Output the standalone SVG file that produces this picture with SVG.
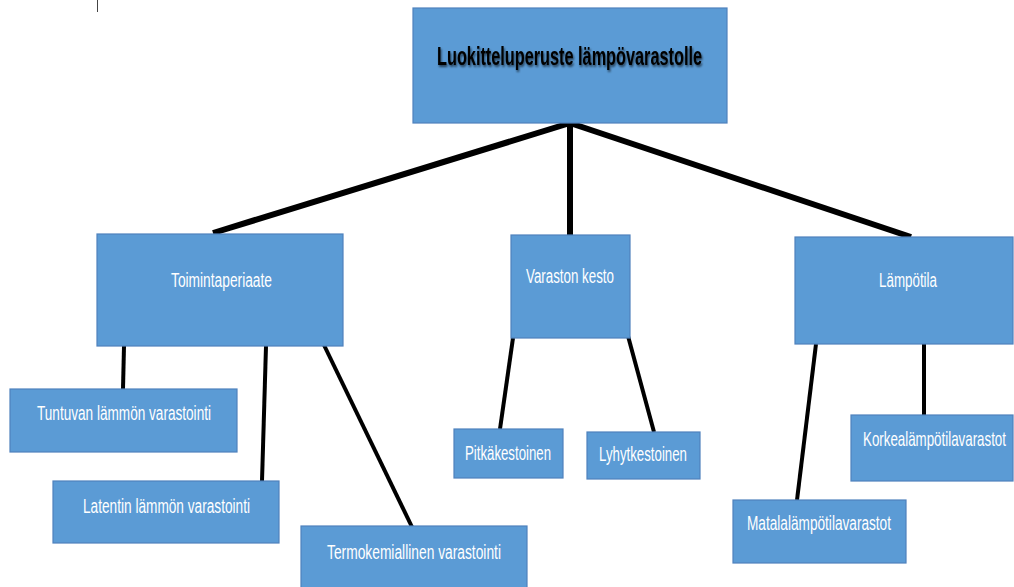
<svg xmlns="http://www.w3.org/2000/svg" width="1014" height="587" viewBox="0 0 1014 587">
<style>
.box{fill:#5B9BD5;stroke:#4F81BD;stroke-width:1.2}
.t{font-family:"Liberation Sans",Arial,sans-serif;font-size:20px;fill:#FFFFFF}
.title{font-family:"Liberation Sans",Arial,sans-serif;font-size:25px;font-weight:bold;fill:#000000}
.c1{stroke:#000;stroke-width:6;fill:none}
.c2{stroke:#000;stroke-width:4;fill:none}
</style>
<defs>
<filter id="sh" x="-5%" y="-30%" width="110%" height="160%">
<feGaussianBlur in="SourceAlpha" stdDeviation="1.2"/>
<feOffset dx="1" dy="1.5" result="b"/>
<feComponentTransfer in="b" result="c"><feFuncA type="linear" slope="0.6"/></feComponentTransfer>
<feMerge><feMergeNode in="c"/><feMergeNode in="SourceGraphic"/></feMerge>
</filter>
</defs>
<rect width="1014" height="587" fill="#FFFFFF"/>
<line x1="97.5" y1="0" x2="97.5" y2="12" stroke="#444" stroke-width="1"/>
<g id="connectors">
<line class="c1" x1="570" y1="123" x2="213" y2="233"/>
<line class="c1" x1="570" y1="123" x2="570" y2="235"/>
<line class="c1" x1="570" y1="123" x2="911" y2="237"/>
<line class="c2" x1="124" y1="346" x2="123" y2="389"/>
<line class="c2" x1="266" y1="346" x2="262" y2="481"/>
<line class="c2" x1="323" y1="343" x2="412" y2="527"/>
<line class="c2" x1="513" y1="338" x2="500" y2="429"/>
<line class="c2" x1="628" y1="336" x2="654" y2="432"/>
<line class="c2" x1="816" y1="344" x2="797" y2="500"/>
<line class="c2" x1="924" y1="342" x2="924" y2="415"/>
</g>
<g id="root">
<rect class="box" x="413" y="8" width="314" height="115"/>
<text class="title" x="437" y="65" textLength="265" lengthAdjust="spacingAndGlyphs" filter="url(#sh)">Luokitteluperuste lämpövarastolle</text>
</g>
<g id="toimintaperiaate">
<rect class="box" x="97" y="234" width="246" height="112"/>
<text class="t" x="171" y="287" textLength="101" lengthAdjust="spacingAndGlyphs">Toimintaperiaate</text>
</g>
<g id="varaston-kesto">
<rect class="box" x="511" y="235" width="119" height="103"/>
<text class="t" x="526" y="283" textLength="88" lengthAdjust="spacingAndGlyphs">Varaston kesto</text>
</g>
<g id="lampotila">
<rect class="box" x="795" y="237" width="218" height="107"/>
<text class="t" x="879" y="287" textLength="58" lengthAdjust="spacingAndGlyphs">Lämpötila</text>
</g>
<g id="tuntuvan">
<rect class="box" x="10" y="389" width="227" height="63"/>
<text class="t" x="37" y="420" textLength="174" lengthAdjust="spacingAndGlyphs">Tuntuvan lämmön varastointi</text>
</g>
<g id="latentin">
<rect class="box" x="53" y="481" width="226" height="62"/>
<text class="t" x="83" y="513" textLength="167" lengthAdjust="spacingAndGlyphs">Latentin lämmön varastointi</text>
</g>
<g id="termokemiallinen">
<rect class="box" x="301" y="526" width="226" height="70"/>
<text class="t" x="327" y="559" textLength="174" lengthAdjust="spacingAndGlyphs">Termokemiallinen varastointi</text>
</g>
<g id="pitkakestoinen">
<rect class="box" x="454" y="429" width="109" height="49"/>
<text class="t" x="465" y="460" textLength="86" lengthAdjust="spacingAndGlyphs">Pitkäkestoinen</text>
</g>
<g id="lyhytkestoinen">
<rect class="box" x="587" y="432" width="113" height="47"/>
<text class="t" x="599" y="461" textLength="88" lengthAdjust="spacingAndGlyphs">Lyhytkestoinen</text>
</g>
<g id="korkea">
<rect class="box" x="851" y="415" width="162" height="66"/>
<text class="t" transform="translate(863,446) scale(0.667,1)" x="0" y="0">Korkealämpötilavarastot</text>
</g>
<g id="matala">
<rect class="box" x="733" y="500" width="173" height="63"/>
<text class="t" x="747" y="530" textLength="144" lengthAdjust="spacingAndGlyphs">Matalalämpötilavarastot</text>
</g>
</svg>
